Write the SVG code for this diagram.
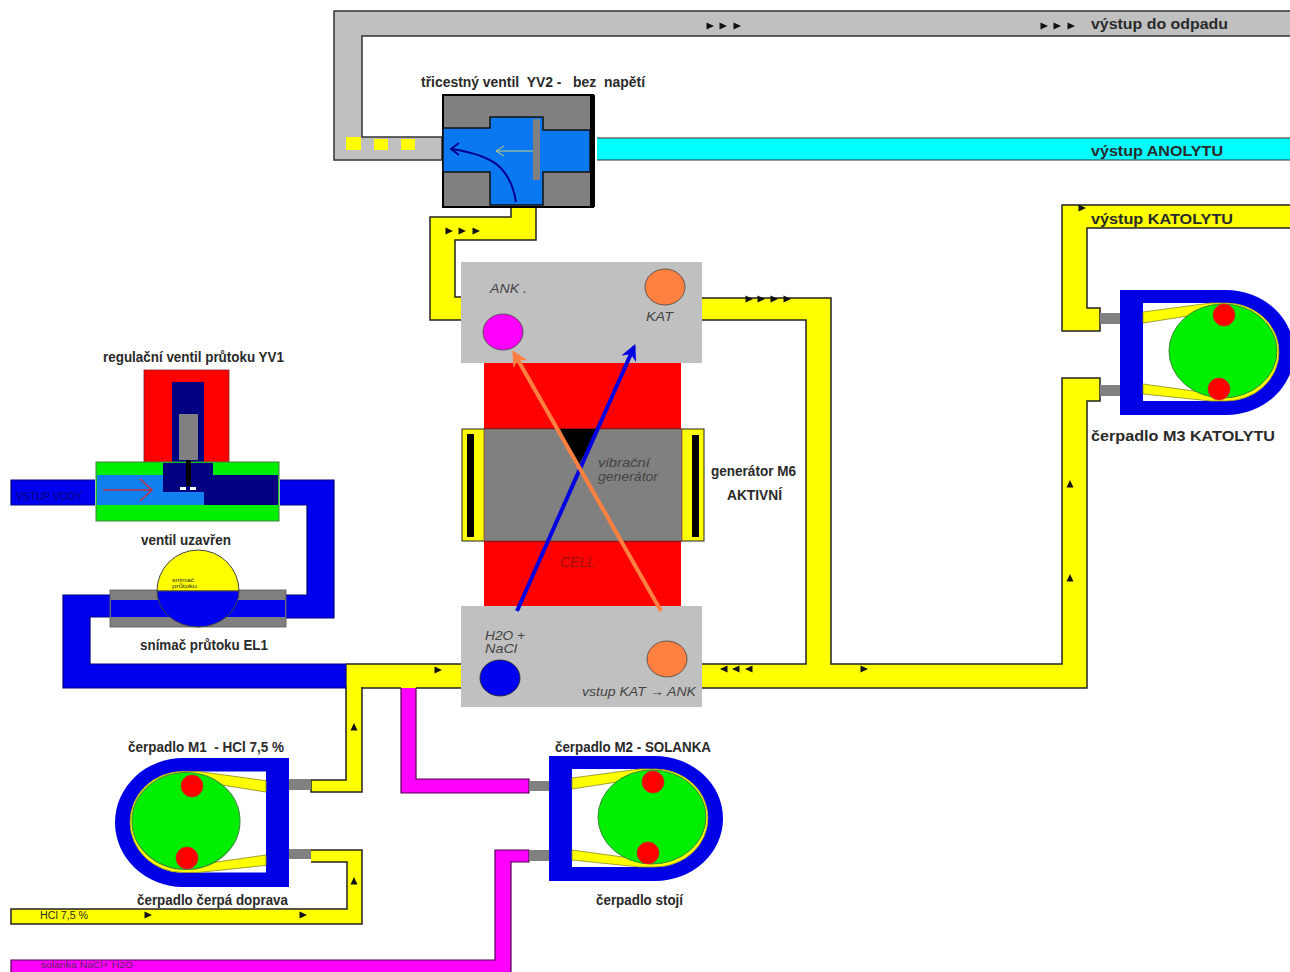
<svg xmlns="http://www.w3.org/2000/svg" xmlns:xlink="http://www.w3.org/1999/xlink" width="1290" height="972" viewBox="0 0 1290 972">
<style>
text{font-family:"Liberation Sans",Arial,sans-serif;white-space:pre;fill:#2a2a2a}
.b{font-weight:bold;font-size:14px}
.i{font-style:italic;font-size:13px;fill:#444}
.y{fill:#ffff00;stroke:#222;stroke-width:1.5}
.g{fill:#c0c0c0;stroke:#333;stroke-width:1.5}
.m{fill:#ff00ff;stroke:#500050;stroke-width:1.2}
.u{fill:#0000f0;stroke:#000080;stroke-width:1.2}
.st{fill:#808080}
.gr{fill:#00ee00;stroke:#3a8a3a;stroke-width:1}
.r{fill:#ff0000;stroke:#c03030;stroke-width:.6}
.box{fill:#c0c0c0}
</style>
<defs>
<path id="t" d="M-3.5,-3.5 L4,0 L-3.5,3.5Z" fill="#111"/>
<marker id="ab" viewBox="0 0 10 10" refX="8" refY="5" markerWidth="4" markerHeight="4" orient="auto"><path d="M0,0L10,5L0,10L3,5Z" fill="#0000e0"/></marker>
<marker id="ao" viewBox="0 0 10 10" refX="8" refY="5" markerWidth="4" markerHeight="4" orient="auto"><path d="M0,0L10,5L0,10L3,5Z" fill="#ff8040"/></marker>
<g id="pump">
<path d="M549,756H655A68,62.5 0 0 1 655,881H549Z" fill="#0000e6"/>
<path d="M572,769H655A53,49 0 0 1 655,867H572Z" fill="#fff"/>
<path d="M572,778L640,769H655A53,49 0 0 1 655,867H640L572,860V850L630,858V780L572,789Z" fill="#ffff00" stroke="#8a8a20" stroke-width=".8"/>
<ellipse class="gr" cx="652" cy="817" rx="54" ry="47"/>
</g>
</defs>
<rect width="1290" height="972" fill="#fff"/>
<g id="connectors">
<path class="g" d="M1290,11H334V160H442V137H362V36H1290"/>
<path d="M597,138H1290V160H597Z" fill="#00ffff"/>
<path d="M597,138H1290M597,160H1290" stroke="#333" stroke-width="1" fill="none"/>
<path class="y" d="M511,207V217H430V320H462V297H455V240H536V207"/>
<path class="y" d="M702,298H831V664H1062V378H1100V401H1087V688H702M702,664H806V320H702"/>
<path class="y" d="M1290,205H1062V331H1100V308H1087V228H1290"/>
<rect x="346" y="664" width="116" height="24" fill="#ffff00"/>
<path d="M346,664H462M362,688H401M416,688H462" stroke="#222" stroke-width="1.5" fill="none"/>
<path class="y" d="M346,687V780H311V792H362V687"/>
<path class="y" d="M311,850H362V924H11V909H347V862H311"/>
<path class="m" d="M401,688V793H529V779H416V688"/>
<path class="m" d="M11,972V960H495V850H529V862H511V972"/>
<path class="u" d="M95,480H11V505H95"/>
<path class="u" d="M280,480H334V618H285V595H307V505H280"/>
<path class="u" d="M110,595H63V688H346V664H90V617H110"/>
<g fill="#ffff00"><rect x="346" y="137" width="15" height="13"/><rect x="374" y="139" width="14" height="11"/><rect x="401" y="139" width="14" height="11"/></g>
<use xlink:href="#t" x="710" y="26"/><use xlink:href="#t" x="723" y="26"/><use xlink:href="#t" x="737" y="26"/>
<use xlink:href="#t" x="1044" y="26"/><use xlink:href="#t" x="1057" y="26"/><use xlink:href="#t" x="1071" y="26"/>
<use xlink:href="#t" x="449" y="231"/><use xlink:href="#t" x="462" y="231"/><use xlink:href="#t" x="476" y="231"/>
<use xlink:href="#t" x="749" y="299"/><use xlink:href="#t" x="761" y="299"/><use xlink:href="#t" x="774" y="299"/><use xlink:href="#t" x="787" y="299"/>
<use xlink:href="#t" transform="translate(724,669) rotate(180)"/><use xlink:href="#t" transform="translate(736,669) rotate(180)"/><use xlink:href="#t" transform="translate(749,669) rotate(180)"/>
<use xlink:href="#t" x="864" y="669"/><use xlink:href="#t" x="438" y="670"/>
<use xlink:href="#t" transform="translate(1070,484) rotate(-90)"/><use xlink:href="#t" transform="translate(1070,578) rotate(-90)"/>
<use xlink:href="#t" transform="translate(354,727) rotate(-90)"/><use xlink:href="#t" transform="translate(354,881) rotate(-90)"/>
<use xlink:href="#t" x="148" y="915"/><use xlink:href="#t" x="303" y="915"/><use xlink:href="#t" x="1082" y="208"/>
</g>
<g id="valve-yv2">
<rect x="443" y="95" width="150" height="112" fill="#808080" stroke="#000" stroke-width="2"/>
<rect x="590" y="95" width="5" height="112" fill="#000"/>
<path d="M443,128H490V117H543V130H590V172H543V205H490V172H443Z" fill="#0a78f0" stroke="#111" stroke-width="1.5"/>
<rect x="533" y="119" width="7" height="61" fill="#808080"/>
<path d="M533,151H497M504,146L496,151L504,156" fill="none" stroke="#c8d080" stroke-width="1"/>
<path d="M516,202C510,165 490,155 452,149M459,143L451,149L459,155" fill="none" stroke="#000090" stroke-width="2"/>
<text class="b" x="421" y="87" textLength="224" lengthAdjust="spacingAndGlyphs">třicestný ventil  YV2 -   bez  napětí</text>
</g>
<g id="cell">
<rect x="484" y="363" width="197" height="243" fill="#ff0000"/>
<rect x="462" y="429" width="242" height="112" fill="#ffff00" stroke="#222" stroke-width="1"/>
<rect x="484" y="429" width="198" height="112" fill="#808080" stroke="#802020" stroke-width=".6"/>
<rect x="467" y="434" width="7" height="103" fill="#000"/>
<rect x="692" y="435" width="7" height="102" fill="#000"/>
<path d="M560,429H597L578,467Z" fill="#000"/>
<text class="i" x="598" y="467" textLength="52" lengthAdjust="spacingAndGlyphs">vibrační</text>
<text class="i" x="598" y="481" textLength="60" lengthAdjust="spacingAndGlyphs">generátor</text>
<text class="i" x="560" y="567" textLength="35" lengthAdjust="spacingAndGlyphs" style="fill:#a01010;font-size:14px">CELL</text>
</g>
<g id="chamber-top">
<rect class="box" x="461" y="262" width="241" height="101"/>
<ellipse cx="503" cy="332" rx="20" ry="18" fill="#ff00ff" stroke="#444" stroke-width=".8"/>
<ellipse cx="665" cy="287" rx="20" ry="18" fill="#ff8040" stroke="#444" stroke-width=".8"/>
<text class="i" x="490" y="293" textLength="37" lengthAdjust="spacingAndGlyphs">ANK .</text>
<text class="i" x="646" y="321" textLength="27" lengthAdjust="spacingAndGlyphs">KAT</text>
</g>
<g id="chamber-bottom">
<rect class="box" x="461" y="606" width="241" height="101"/>
<ellipse cx="500" cy="678" rx="20" ry="18" fill="#0000f0" stroke="#222" stroke-width=".8"/>
<ellipse cx="667" cy="659" rx="20" ry="18" fill="#ff8040" stroke="#444" stroke-width=".8"/>
<text class="i" x="485" y="640" textLength="40" lengthAdjust="spacingAndGlyphs">H2O +</text>
<text class="i" x="485" y="653" textLength="32" lengthAdjust="spacingAndGlyphs">NaCl</text>
<text class="i" x="582" y="696" textLength="114" lengthAdjust="spacingAndGlyphs">vstup KAT → ANK</text>
</g>
<g id="cell-flows">
<path d="M517,611L634,347" stroke="#0000e0" stroke-width="4" fill="none" marker-end="url(#ab)"/>
<path d="M661,611L514,353" stroke="#ff8040" stroke-width="4" fill="none" marker-end="url(#ao)"/>
</g>
<g id="generator-label">
<text class="b" x="711" y="476" textLength="85" lengthAdjust="spacingAndGlyphs">generátor M6</text>
<text class="b" x="727" y="500" textLength="55" lengthAdjust="spacingAndGlyphs">AKTIVNÍ</text>
</g>
<g id="valve-yv1">
<rect x="144" y="370" width="85" height="93" fill="#ff0000" stroke="#802020" stroke-width=".8"/>
<rect x="172" y="382" width="32" height="81" fill="#000080"/>
<rect x="179" y="414" width="19" height="46" fill="#808080"/>
<rect x="96" y="462" width="183" height="59" fill="#00ee00" stroke="#408040" stroke-width="1"/>
<rect x="97" y="475" width="108" height="30" fill="#1080f0"/>
<path d="M163,463H213V475H278V505H204V492H163Z" fill="#000080"/>
<rect x="186" y="460" width="5" height="26" fill="#000"/>
<rect x="180" y="487" width="6" height="3" fill="#fff"/><rect x="190" y="487" width="6" height="3" fill="#fff"/>
<path d="M103,490H151M140,479L152,490L140,501" fill="none" stroke="#c03040" stroke-width="1.5"/>
<text class="b" x="103" y="362" textLength="181" lengthAdjust="spacingAndGlyphs">regulační ventil průtoku YV1</text>
<text x="16" y="500" textLength="66" lengthAdjust="spacingAndGlyphs" style="font-size:10px;fill:#000070">VSTUP VODY</text>
</g>
<g id="sensor-el1">
<rect x="110" y="590" width="176" height="37" fill="#808080" stroke="#555" stroke-width=".8"/>
<rect x="111" y="600" width="174" height="17" fill="#0000f0"/>
<path d="M157,591A41,41 0 0 1 239,591Z" fill="#ffff00" stroke="#444" stroke-width="1"/>
<path d="M157,591A41,36 0 0 0 239,591Z" fill="#0000f0" stroke="#444" stroke-width="1"/>
<text x="172" y="582" textLength="22" lengthAdjust="spacingAndGlyphs" style="font-size:5.5px">snímač</text>
<text x="172" y="588" textLength="25" lengthAdjust="spacingAndGlyphs" style="font-size:5.5px">průtoku</text>
<text class="b" x="141" y="545" textLength="90" lengthAdjust="spacingAndGlyphs">ventil uzavřen</text>
<text class="b" x="140" y="650" textLength="128" lengthAdjust="spacingAndGlyphs">snímač průtoku EL1</text>
</g>
<g id="pump-m1">
<rect class="st" x="289" y="779" width="22" height="11"/><rect class="st" x="289" y="849" width="22" height="10"/>
<use xlink:href="#pump" transform="matrix(-1 0 0 1.032 838 -22.2)"/>
<circle class="r" cx="192" cy="786" r="11"/><circle class="r" cx="187" cy="858" r="11"/>
<text class="b" x="128" y="752" textLength="156" lengthAdjust="spacingAndGlyphs">čerpadlo M1  - HCl 7,5 %</text>
<text class="b" x="137" y="905" textLength="151" lengthAdjust="spacingAndGlyphs">čerpadlo čerpá doprava</text>
</g>
<g id="pump-m2">
<rect class="st" x="529" y="781" width="20" height="10"/><rect class="st" x="529" y="850" width="20" height="11"/>
<use xlink:href="#pump"/>
<circle class="r" cx="653" cy="782" r="11"/><circle class="r" cx="648" cy="853" r="11"/>
<text class="b" x="555" y="752" textLength="156" lengthAdjust="spacingAndGlyphs">čerpadlo M2 - SOLANKA</text>
<text class="b" x="596" y="905" textLength="87" lengthAdjust="spacingAndGlyphs">čerpadlo stojí</text>
</g>
<g id="pump-m3">
<rect class="st" x="1100" y="313" width="20" height="11"/><rect class="st" x="1100" y="385" width="20" height="11"/>
<use xlink:href="#pump" x="571" y="-466"/>
<circle class="r" cx="1224" cy="315" r="11"/><circle class="r" cx="1219" cy="389" r="11"/>
<text class="b" x="1091" y="441" textLength="184" lengthAdjust="spacingAndGlyphs">čerpadlo M3 KATOLYTU</text>
</g>
<g id="pipe-labels">
<text class="b" x="1091" y="29" textLength="137" lengthAdjust="spacingAndGlyphs">výstup do odpadu</text>
<text class="b" x="1091" y="156" textLength="132" lengthAdjust="spacingAndGlyphs">výstup ANOLYTU</text>
<text class="b" x="1091" y="224" textLength="142" lengthAdjust="spacingAndGlyphs">výstup KATOLYTU</text>
<text x="40" y="919" textLength="48" lengthAdjust="spacingAndGlyphs" style="font-size:10px">HCl 7,5 %</text>
<text x="41" y="968" textLength="92" lengthAdjust="spacingAndGlyphs" style="font-size:9px;fill:#602060">solanka NaCl+ H2O</text>
</g>
</svg>
